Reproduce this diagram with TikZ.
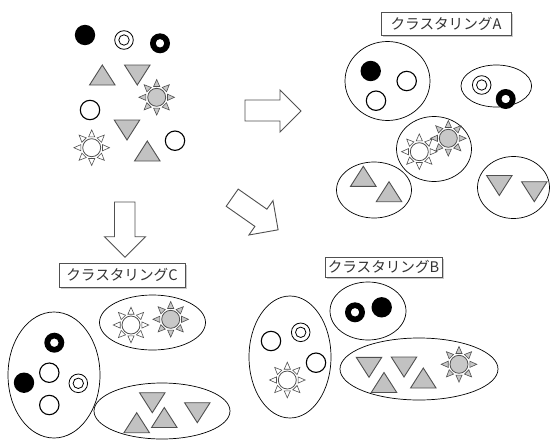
\documentclass[tikz,border=0pt]{standalone}
\usepackage{fontspec}
\newfontfamily\jp{Noto Sans CJK JP}
\usetikzlibrary{shadows}
\definecolor{trigray}{HTML}{C2C2C2}
\definecolor{edgegray}{HTML}{505050}
\definecolor{suncol}{HTML}{C8C8C8}
\tikzset{
  trishape/.style={fill=trigray, draw=edgegray, line width=0.9pt, line join=miter},
  rayshape/.style={draw=edgegray, line width=0.6pt, line join=miter},
  cluster/.style={draw=black, line width=0.7pt},
  blockarrow/.style={draw=edgegray, fill=white, line width=0.9pt, line join=miter},
  labelbox/.style={draw=edgegray, fill=white, line width=0.8pt, font=\jp\fontsize{14.6}{16}\selectfont, text=black!80,
     inner sep=0pt, drop shadow={shadow xshift=1.8pt, shadow yshift=-1.8pt, fill=black!35, opacity=0.6}},
  pics/tup/.style={code={\draw[trishape] (0,-10) -- (12.75,10) -- (-12.75,10) -- cycle;}},
  pics/tdown/.style={code={\draw[trishape] (0,10) -- (12.75,-10) -- (-12.75,-10) -- cycle;}},
  pics/sun/.style={code={
    \foreach \a in {0,45,...,315}{\draw[rayshape, fill=#1, rotate=\a] (10.8,-3.1) -- (17.8,0) -- (10.8,3.1) -- cycle;}
    \draw[draw=edgegray, line width=0.8pt, fill=#1] (0,0) circle (9);}},
  pics/opencirc/.style={code={\draw[black, line width=1.1pt, fill=white] (0,0) circle (9.7);}},
  pics/blackcirc/.style={code={\fill[black] (0,0) circle (10.2);}},
  pics/dblcirc/.style={code={\draw[black, line width=0.8pt] (0,0) circle (9.3); \draw[black, line width=0.8pt] (0,0) circle (5.2);}},
  pics/ringcirc/.style={code={\fill[black, even odd rule] (0,0) circle (10) (0,0) circle (4.3);}},
}
\begin{document}
\begin{tikzpicture}[x=1pt, y=-1pt]
\useasboundingbox (0,0) rectangle (551,439);

% initial set
\pic at (85,35) {blackcirc};
\pic at (124,40) {dblcirc};
\pic at (160,43.3) {ringcirc};
\pic at (102.3,75) {tup};
\pic at (137.3,75) {tdown};
\pic at (156.7,97.3) {sun=suncol};
\pic at (90,110) {opencirc};
\pic at (127,130) {tdown};
\pic at (91.7,147.7) {sun=white};
\pic at (175,140.7) {opencirc};
\pic at (147.3,151) {tup};

% arrows
\draw[blockarrow] (245,100) -- (280,100) -- (280,90) -- (301,111) -- (280,132) -- (280,121) -- (245,121) -- cycle;
\draw[blockarrow] (114.5,202) -- (135,202) -- (135,236.7) -- (145.5,236.7) -- (125,257.3) -- (104.5,236.7) -- (114.5,236.7) -- cycle;
\draw[blockarrow] (226.2,206.3) -- (238.2,189.1) -- (266.9,209.2) -- (273,200.6) -- (278.1,229.8) -- (248.9,235) -- (254.9,226.4) -- cycle;

% labels
\node[labelbox, minimum width=130pt, minimum height=23pt] (labA) at (446,23.5) {クラスタリングA};
\node[labelbox, minimum width=117pt, minimum height=20pt] (labB) at (383.5,267) {クラスタリングB};
\node[labelbox, minimum width=126pt, minimum height=24pt] (labC) at (122,275) {クラスタリングC};

% clustering A
\draw[cluster] (387.5,81) ellipse [x radius=42.5, y radius=39.5];
\pic at (370.7,71) {blackcirc};
\pic at (406.7,81) {opencirc};
\pic at (376,100.7) {opencirc};
\draw[cluster] (496.3,86) ellipse [x radius=35.3, y radius=21];
\pic at (481.7,85) {dblcirc};
\pic at (505.7,99) {ringcirc};
\draw[cluster] (434,149) ellipse [x radius=37.5, y radius=32.5];
\pic at (419.3,151.7) {sun=white};
\pic at (448.3,138.3) {sun=suncol};
\draw[cluster] (374,190) ellipse [x radius=37.5, y radius=28];
\pic at (363.3,176.3) {tup};
\pic at (389,191.7) {tup};
\draw[cluster] (513.5,187.5) ellipse [x radius=36, y radius=31];
\pic at (499.3,185.5) {tdown};
\pic at (534.3,191.7) {tdown};

% clustering C
\draw[cluster] (54,375) ellipse [x radius=46, y radius=63];
\pic at (54.3,342.7) {ringcirc};
\pic at (24,382.7) {blackcirc};
\pic at (49.3,372.7) {opencirc};
\pic at (78.3,383.3) {dblcirc};
\pic at (49.3,405) {opencirc};
\draw[cluster] (152.5,322.5) ellipse [x radius=53, y radius=27.5];
\pic at (131,325) {sun=white};
\pic at (170.7,319.3) {sun=suncol};
\draw[cluster] (162,411) ellipse [x radius=68, y radius=28];
\pic at (152.3,402.7) {tdown};
\pic at (136.7,422.7) {tup};
\pic at (164.3,417.5) {tup};
\pic at (197.3,412.7) {tdown};

% clustering B
\draw[cluster] (290,357) ellipse [x radius=41, y radius=61];
\pic at (271,341) {opencirc};
\pic at (300.7,332.3) {dblcirc};
\pic at (316,362.7) {opencirc};
\pic at (287.3,380) {sun=white};
\draw[cluster] (368,311) ellipse [x radius=38, y radius=29];
\pic at (355,312.3) {ringcirc};
\pic at (381.7,307.3) {blackcirc};
\draw[cluster] (419,369) ellipse [x radius=79, y radius=31];
\pic at (369,367.3) {tdown};
\pic at (384,382.5) {tup};
\pic at (404,367) {tdown};
\pic at (423.3,378) {tup};
\pic at (459,364.3) {sun=suncol};
\end{tikzpicture}
\end{document}
